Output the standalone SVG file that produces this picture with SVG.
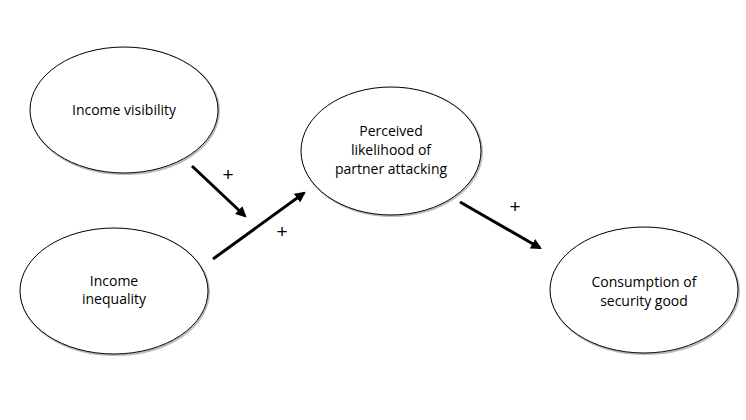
<svg xmlns="http://www.w3.org/2000/svg" width="746" height="420" viewBox="0 0 746 420">
<style>
.node ellipse.main{fill:#fff;stroke:#000;stroke-width:1}
.node ellipse.shadow{fill:none;stroke:#bbb;stroke-width:2}
.lbl{font-family:"Open Sans","Liberation Sans",sans-serif;font-size:14px;fill:#000;text-anchor:middle}
.conn line{stroke:#000;stroke-width:3;marker-end:url(#ah)}
.plus{font-family:"Liberation Sans",sans-serif;font-size:19px;fill:#000;text-anchor:middle}
</style>
<defs>
<marker id="ah" viewBox="0 0 10 10" refX="8" refY="5" markerWidth="3.6" markerHeight="3.6" orient="auto" markerUnits="strokeWidth">
<path d="M0,0 L10,5 L0,10 z" fill="#000"/>
</marker>
</defs>
<rect width="746" height="420" fill="#fff"/>
<g id="income-visibility" class="node">
<ellipse class="shadow" cx="125" cy="111" rx="94" ry="63"/>
<ellipse class="main" cx="124" cy="110" rx="94" ry="63"/>
<text class="lbl" x="124" y="115">Income visibility</text>
</g>
<g id="income-inequality" class="node">
<ellipse class="shadow" cx="115" cy="292" rx="94" ry="63"/>
<ellipse class="main" cx="114" cy="291" rx="94" ry="63"/>
<text class="lbl" x="114" y="286">Income</text>
<text class="lbl" x="114" y="304">inequality</text>
</g>
<g id="perceived-likelihood" class="node">
<ellipse class="shadow" cx="392" cy="152" rx="90" ry="64"/>
<ellipse class="main" cx="391" cy="151" rx="90" ry="64"/>
<text class="lbl" x="391" y="136">Perceived</text>
<text class="lbl" x="391" y="155">likelihood of</text>
<text class="lbl" x="391" y="174">partner attacking</text>
</g>
<g id="consumption" class="node">
<ellipse class="shadow" cx="645" cy="291" rx="94" ry="63"/>
<ellipse class="main" cx="644" cy="290" rx="94" ry="63"/>
<text class="lbl" x="644" y="287">Consumption of</text>
<text class="lbl" x="644" y="306">security good</text>
</g>
<g id="connectors" class="conn">
<line x1="192" y1="166" x2="245" y2="216"/>
<line x1="213" y1="259" x2="304" y2="193"/>
<line x1="460" y1="202" x2="540" y2="248"/>
<text class="plus" x="228" y="181">+</text>
<text class="plus" x="282" y="238">+</text>
<text class="plus" x="515" y="213">+</text>
</g>
</svg>
